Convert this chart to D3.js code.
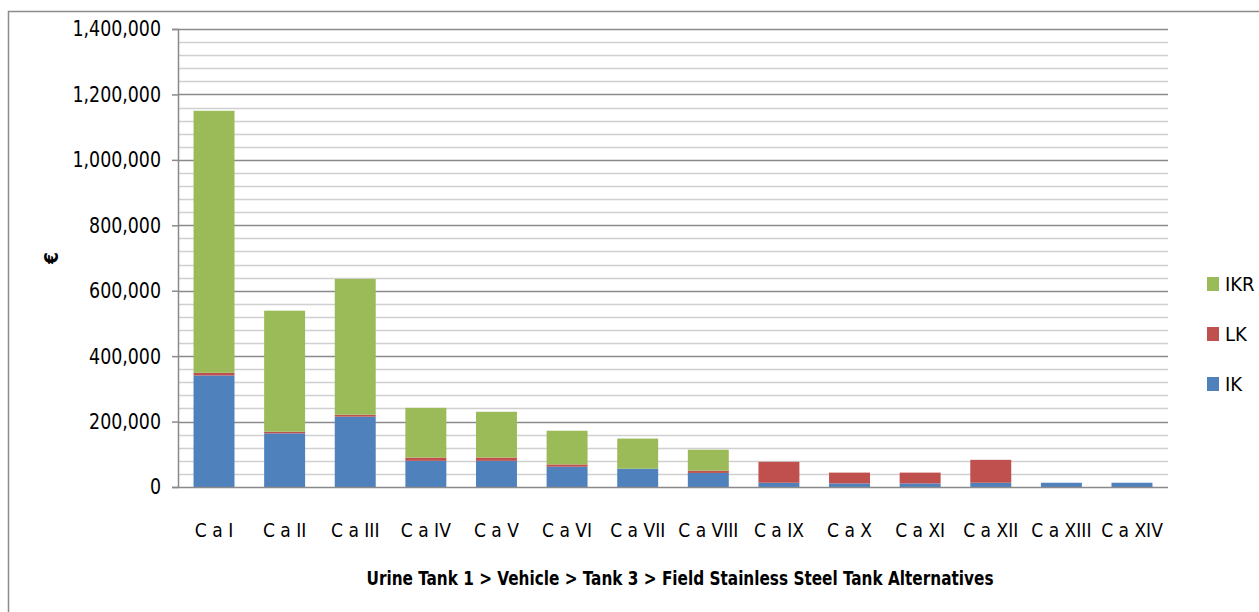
<!DOCTYPE html>
<html>
<head>
<meta charset="utf-8">
<script src="https://cdn.jsdelivr.net/npm/d3@7/dist/d3.min.js"></script>
<style>
  html, body { margin: 0; padding: 0; background: #fff; }
  svg text { font-family: "Liberation Sans Narrow", "DejaVu Sans Condensed", "Open Sans", sans-serif; font-stretch: condensed; fill: #000; }
</style>
</head>
<body>
<svg id="chart" width="1259" height="612"></svg>
<script>
const categories = ["C a I","C a II","C a III","C a IV","C a V","C a VI","C a VII","C a VIII","C a IX","C a X","C a XI","C a XII","C a XIII","C a XIV"];
const seriesNames = ["IK","LK","IKR"];
const IK  = [341000,164000,215000,80000,80000,62000,56000,43000,13000,11000,11000,13000,13000,13000];
const LK  = [8000,5000,6000,10000,10000,7000,0,7000,64000,33000,33000,70000,0,0];
const IKR = [801000,370000,415000,152000,140000,103000,92000,64000,0,0,0,0,0,0];
const colors = ["#4F81BD","#C0504D","#9BBB59"];
const yTicks = [0,200000,400000,600000,800000,1000000,1200000,1400000];
const xTitle = "Urine Tank 1 > Vehicle > Tank 3 > Field Stainless Steel Tank Alternatives";
const yTitle = "€";

const svg = d3.select("#chart");
const plotL = 178, plotR = 1168, plotT = 29, plotB = 487;

// outer border (left and top visible)
svg.append("path").attr("d", `M8.5,612 V11.5 H1259`).attr("fill","none").attr("stroke","#8c8c8c").attr("stroke-width",1.5);

const x = d3.scaleBand().domain(categories).range([plotL, plotR]).paddingInner(0.42).paddingOuter(0.22);
const y = d3.scaleLinear().domain([0,1400000]).range([plotB, plotT]);

// minor gridlines
const minor = d3.range(0, 1400001, 40000).filter(v => v % 200000 !== 0);
svg.append("g").selectAll("line").data(minor).join("line")
  .attr("x1", plotL).attr("x2", plotR)
  .attr("y1", d => Math.round(y(d)) + 0.5).attr("y2", d => Math.round(y(d)) + 0.5)
  .attr("stroke", "#d0d0d0").attr("stroke-width", 1.5);
// major gridlines
svg.append("g").selectAll("line").data(yTicks.filter(v => v > 0)).join("line")
  .attr("x1", plotL).attr("x2", plotR)
  .attr("y1", d => Math.round(y(d)) + 0.5).attr("y2", d => Math.round(y(d)) + 0.5)
  .attr("stroke", "#8a8a8a").attr("stroke-width", 1.5);

// stacked bars
const table = categories.map((c, i) => ({cat: c, IK: IK[i], LK: LK[i], IKR: IKR[i]}));
const stacked = d3.stack().keys(seriesNames)(table);
svg.append("g").selectAll("g").data(stacked).join("g")
  .attr("fill", (d, i) => colors[i])
  .selectAll("rect").data(d => d).join("rect")
  .attr("x", d => x(d.data.cat))
  .attr("width", x.bandwidth())
  .attr("y", d => y(d[1]))
  .attr("height", d => y(d[0]) - y(d[1]));

// y axis
const yAxis = d3.axisLeft(y).tickValues(yTicks).tickSize(6).tickPadding(10).tickFormat(d3.format(","));
const gy = svg.append("g").attr("transform", `translate(${plotL},0)`).call(yAxis);
gy.select(".domain").attr("stroke", "#8a8a8a").attr("stroke-width", 1.5);
gy.selectAll(".tick line").attr("stroke", "#8a8a8a").attr("stroke-width", 1.5);
gy.selectAll(".tick text").attr("font-size", 21.5).attr("fill", "#000")
  .attr("x", -17 / 0.9).attr("transform", "scale(0.9,1)");

// x axis
const xAxis = d3.axisBottom(x).tickSize(0).tickPadding(37);
const gx = svg.append("g").attr("transform", `translate(0,${plotB})`).call(xAxis);
gx.select(".domain").attr("stroke", "#8a8a8a").attr("stroke-width", 1.5).attr("d", `M${plotL},0.5H${plotR}`);
gx.selectAll(".tick text").attr("font-size", 19).attr("fill", "#000");

// titles
svg.append("text").attr("x", 680).attr("y", 585).attr("text-anchor", "middle")
  .attr("font-size", 20).attr("font-weight", "bold")
  .attr("textLength", 627).attr("lengthAdjust", "spacingAndGlyphs").text(xTitle);
svg.append("text").attr("transform", "translate(58,258) rotate(-90)").attr("text-anchor", "middle")
  .attr("font-size", 19).attr("font-weight", "bold").text(yTitle);

// legend
const legendOrder = [2,1,0];
const lg = svg.append("g").selectAll("g").data(legendOrder).join("g")
  .attr("transform", (d, i) => `translate(1207,${284 + i * 50})`);
lg.append("rect").attr("x", 0).attr("y", -7).attr("width", 12).attr("height", 14).attr("fill", d => colors[d]);
lg.append("text").attr("x", 18).attr("y", 0).attr("dy", "0.36em").attr("font-size", 20).text(d => seriesNames[d]);
</script>
</body>
</html>
